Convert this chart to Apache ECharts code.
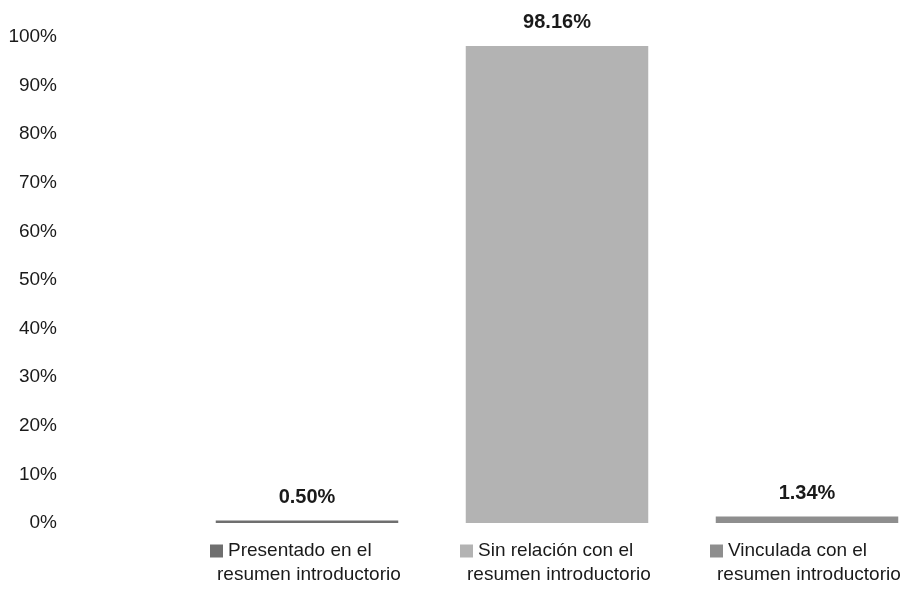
<!DOCTYPE html>
<html>
<head>
<meta charset="utf-8">
<script src="https://cdn.jsdelivr.net/npm/echarts@6/dist/echarts.min.js"></script>
<style>html,body{margin:0;padding:0;background:#fff}#c{width:920px;height:600px}</style>
</head>
<body>
<div id="c"></div>
<script>
const categoriesLine1 = ['Presentado en el', 'Sin relación con el', 'Vinculada con el'];
const categoriesLine2 = ['resumen introductorio', 'resumen introductorio', 'resumen introductorio'];
const values = [0.50, 98.16, 1.34];
const yTicks = [0, 10, 20, 30, 40, 50, 60, 70, 80, 90, 100];

const barColors = ['#6f6f6f', '#b3b3b3', '#8e8e8e'];
const FONT = '"Liberation Sans", Arial, sans-serif';

const chart = echarts.init(document.getElementById('c'), null, {renderer: 'canvas'});
const rich = {};
barColors.forEach((c, i) => {
  rich['m' + i] = {width: 13, height: 13, backgroundColor: c, fontSize: 1, align: 'left', verticalAlign: 'middle'};
});
rich.gap = {width: 5, fontSize: 1, align: 'left'};
rich.a = {width: 176, align: 'left', fontSize: 19, fontFamily: FONT, color: '#1a1a1a', lineHeight: 24};
rich.b = {width: 187, align: 'left', fontSize: 19, fontFamily: FONT, color: '#1a1a1a', lineHeight: 24, padding: [0, 0, 0, 7]};

chart.setOption({
  animation: false,
  grid: {left: 182, top: 37, width: 750, height: 486, outerBoundsMode: 'none', containLabel: false},
  xAxis: {
    type: 'category',
    data: categoriesLine1.map((c, i) => c + '\n' + categoriesLine2[i]),
    axisLine: {show: false},
    axisTick: {show: false},
    axisLabel: {
      interval: 0,
      margin: 16,
      align: 'center',
      formatter: (v, i) => {
        const parts = v.split('\n');
        return '{m' + i + '|}{gap|}{a|' + parts[0] + '}\n{b|' + parts[1] + '}';
      },
      rich: rich
    }
  },
  yAxis: {
    type: 'value',
    min: 0, max: 100, interval: 10,
    axisLine: {show: false},
    axisTick: {show: false},
    splitLine: {show: false},
    axisLabel: {
      margin: 125,
      fontSize: 19,
      fontFamily: FONT,
      color: '#1a1a1a',
      formatter: v => yTicks.includes(v) ? v + '%' : ''
    }
  },
  series: [{
    type: 'bar',
    barWidth: '73%',
    data: values.map((v, i) => ({value: v, itemStyle: {color: barColors[i]}})),
    label: {
      show: true,
      position: 'top',
      distance: 13,
      fontSize: 20,
      fontWeight: 'bold',
      fontFamily: FONT,
      color: '#1a1a1a',
      formatter: p => p.value.toFixed(2) + '%'
    }
  }]
});
</script>
</body>
</html>
